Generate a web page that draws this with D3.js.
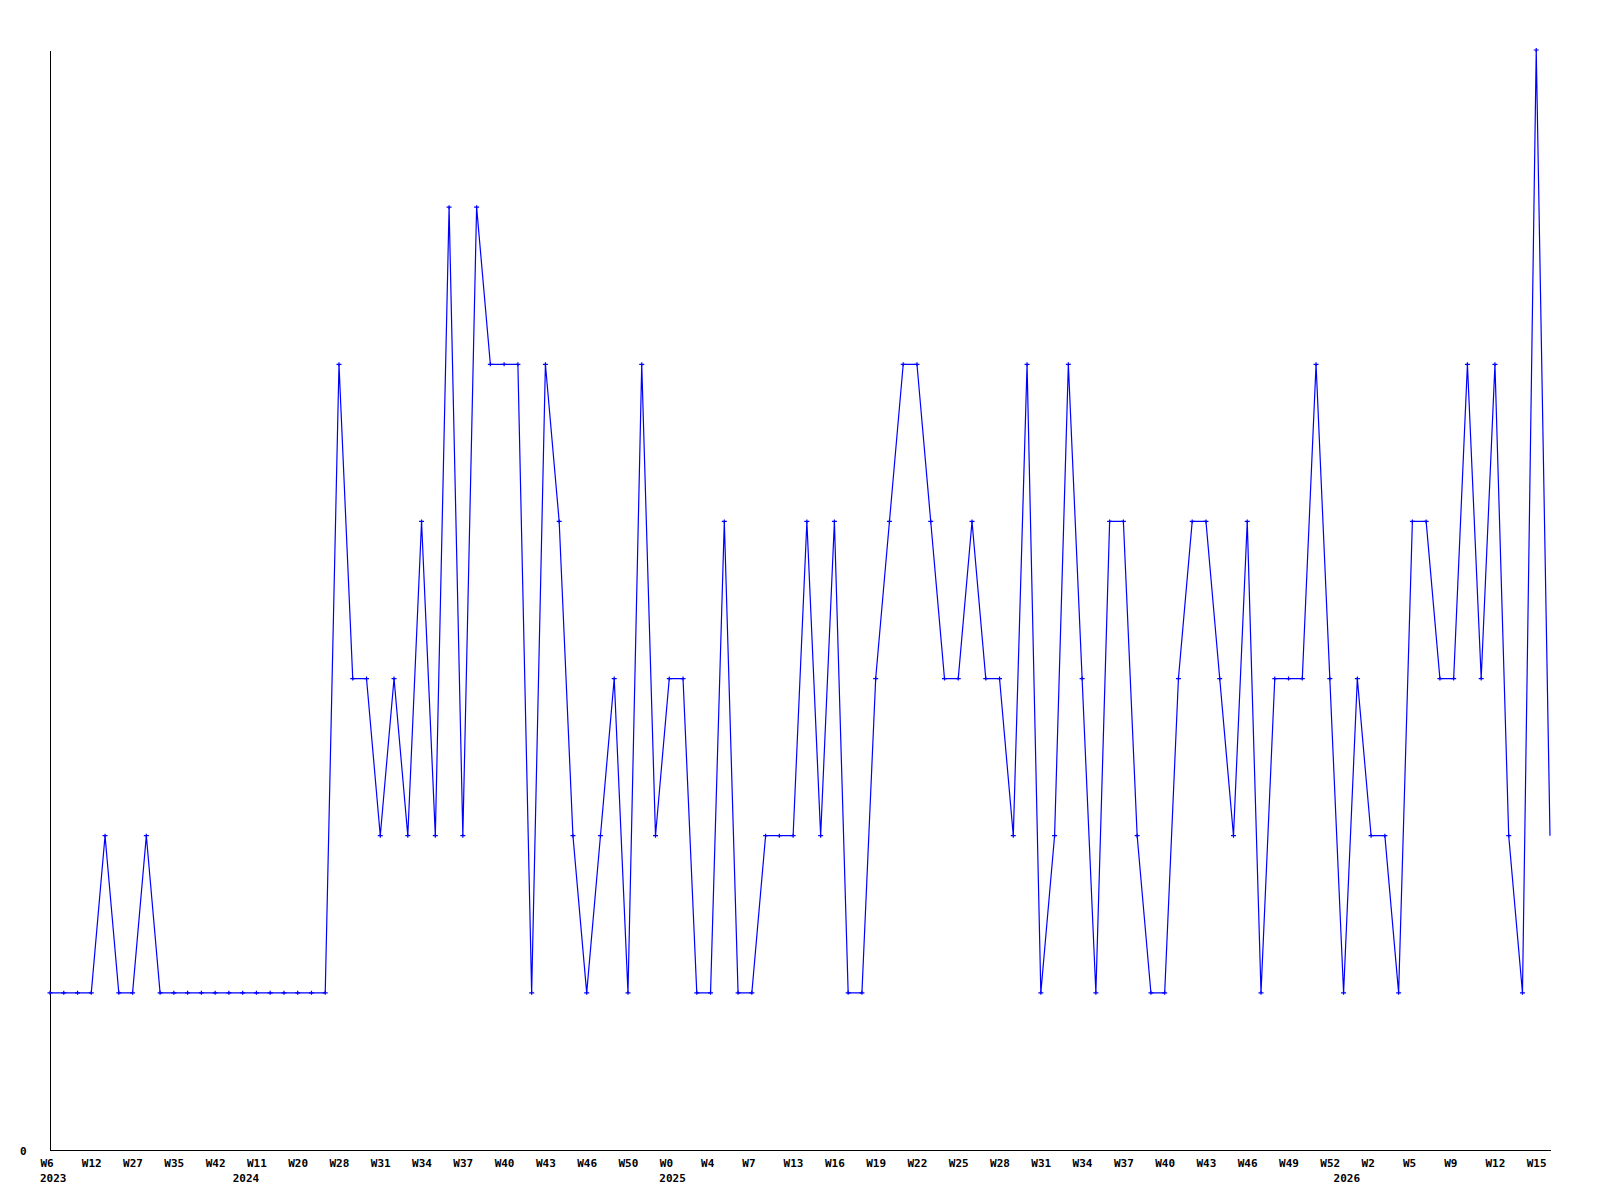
<!DOCTYPE html>
<html>
<head>
<meta charset="utf-8">
<script src="https://cdn.jsdelivr.net/npm/d3@7"></script>
<style>
  html, body { margin: 0; padding: 0; background: #ffffff; }
  svg { display: block; }
  text { font-family: "DejaVu Sans Mono", "Liberation Mono", monospace; font-weight: bold; font-size: 11px; fill: #000; }
</style>
</head>
<body>
<svg id="chart" width="1600" height="1200"></svg>
<script>
// ---- data ----
const values = [
  1,1,1,1,2,1,1,2,1,1,
  1,1,1,1,1,1,1,1,1,1,
  1,5,3,3,2,3,2,4,2,6,
  2,6,5,5,5,1,5,4,2,1,
  2,3,1,5,2,3,3,1,1,4,
  1,1,2,2,2,4,2,4,1,1,
  3,4,5,5,4,3,3,4,3,3,
  2,5,1,2,5,3,1,4,4,2,
  1,1,3,4,4,3,2,4,1,3,
  3,3,5,3,1,3,2,2,1,4,
  4,3,3,5,3,5,2,1,7,2
];
const weekLabels = [
  "W6","W12","W27","W35","W42","W11","W20","W28","W31","W34",
  "W37","W40","W43","W46","W50","W0","W4","W7","W13","W16",
  "W19","W22","W25","W28","W31","W34","W37","W40","W43","W46",
  "W49","W52","W2","W5","W9","W12","W15"
];
const tickEvery = 3;
const yearLabels = ["2023","2024","2025","2026"];
const yearIndex = [0, 14, 45, 94];
const yTickValues = [0];

// ---- layout ----
const svg = d3.select("#chart");
const mLeft = 50, mRight = 1550, mTop = 50, mBottom = 1150;

const x = d3.scaleLinear().domain([0, values.length - 1]).range([mLeft, mRight]);
const y = d3.scaleLinear().domain([0, d3.max(values)]).range([mBottom, mTop]);

// x axis
const tickIdx = weekLabels.map((d, i) => i * tickEvery);
const xAxis = d3.axisBottom(x)
  .tickValues(tickIdx)
  .tickFormat((d, i) => weekLabels[i])
  .tickSize(0).tickSizeOuter(0);
const gx = svg.append("g").attr("transform", `translate(0,${mBottom})`).call(xAxis);
gx.select(".domain").attr("stroke", "#000").attr("shape-rendering", "crispEdges");
gx.selectAll("text")
  .attr("text-anchor", "start")
  .attr("x", -10).attr("y", 17).attr("dy", null)
  .attr("fill", "#000")
  .style("font-family", '"DejaVu Sans Mono", monospace')
  .style("font-weight", "bold").style("font-size", "11px");

// year labels
svg.append("g").selectAll("text").data(yearLabels).join("text")
  .attr("x", (d, i) => x(yearIndex[i]) - 10)
  .attr("y", mBottom + 32)
  .text(d => d);

// y axis
const yAxis = d3.axisLeft(y).tickValues(yTickValues).tickFormat(d3.format("d")).tickSize(0).tickSizeOuter(0);
const gy = svg.append("g").attr("transform", `translate(${mLeft},0)`).call(yAxis);
gy.select(".domain").attr("stroke", "#000").attr("shape-rendering", "crispEdges");
gy.selectAll("text")
  .attr("text-anchor", "start").attr("x", -30).attr("y", 4).attr("dy", null)
  .attr("fill", "#000")
  .style("font-family", '"DejaVu Sans Mono", monospace')
  .style("font-weight", "bold").style("font-size", "11px");

// line
const line = d3.line().x((d, i) => x(i)).y(d => y(d));
svg.append("path")
  .datum(values)
  .attr("fill", "none")
  .attr("stroke", "#0000ff")
  .attr("stroke-width", 1.2)
  .attr("d", line);

// markers (last, partial point has none)
const markerPts = values.slice(0, values.length - 1);
svg.append("g").selectAll("path").data(markerPts).join("path")
  .attr("transform", (d, i) => `translate(${x(i)},${y(d)})`)
  .attr("d", "M-2.5,-0.6H-0.6V-2H0.6V-0.6H2.5V0.6H0.6V2H-0.6V0.6H-2.5Z")
  .attr("fill", "#0000ff");
</script>
</body>
</html>
